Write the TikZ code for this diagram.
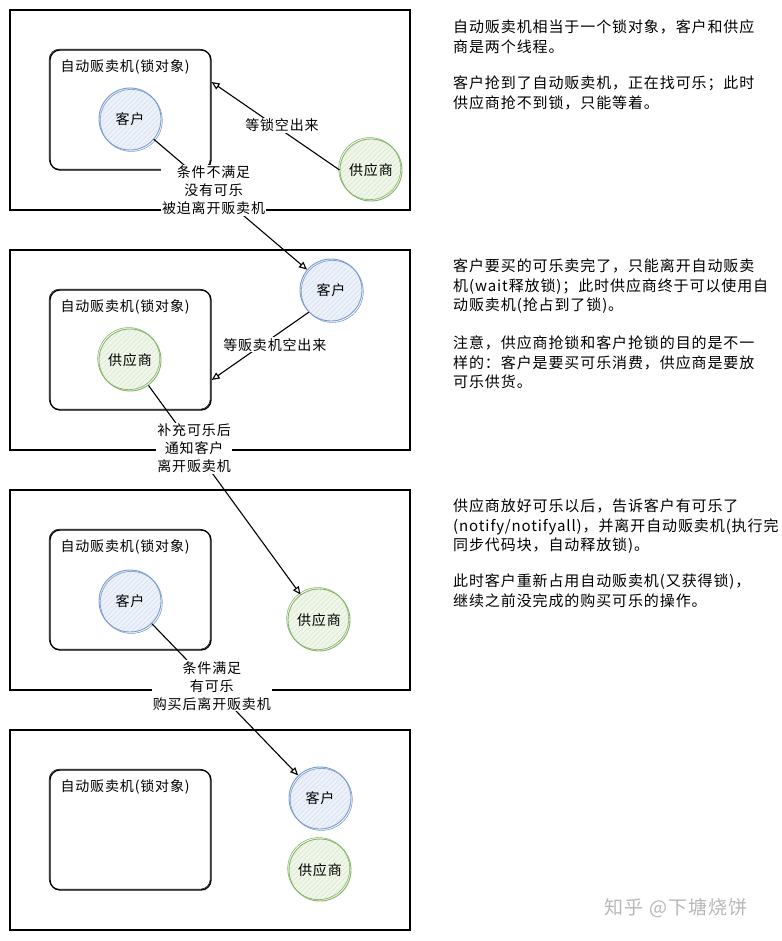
\documentclass[tikz,border=0pt]{standalone}
\usepackage{fontspec}
\usetikzlibrary{arrows.meta,patterns.meta}
\newfontfamily\hand[LetterSpace=6]{Noto Sans CJK SC}
\definecolor{custline}{HTML}{7A9CCF}
\definecolor{custbg}{HTML}{EDF2FA}
\definecolor{suppline}{HTML}{86B56A}
\definecolor{suppbg}{HTML}{F0F7EA}

\begin{document}
\begin{tikzpicture}[
	x=1pt, y=-1pt,
	font=\hand\fontsize{14}{18}\selectfont,
	panel/.style={draw, line width=1.2pt, minimum width=400pt, minimum height=200pt, inner sep=0pt,
		postaction={draw, line width=0.6pt, transform canvas={shift={(0.7pt,0.9pt)}}}},
	vbox/.style={draw, line width=1.3pt, rounded corners=10pt, minimum width=161pt, minimum height=120pt, inner sep=0pt,
		postaction={draw, line width=0.5pt, transform canvas={shift={(-0.8pt,0.8pt)}}}},
	cust/.style={circle, draw=custline, line width=0.9pt, minimum size=62pt, inner sep=0pt,
		preaction={fill=custbg}, pattern={Lines[angle=45,distance=3.5pt,line width=0.35pt]}, pattern color=custline!40,
		postaction={draw=custline, line width=0.6pt, transform canvas={shift={(1.3pt,-1.4pt)}}}},
	supp/.style={circle, draw=suppline, line width=0.9pt, minimum size=62pt, inner sep=0pt,
		preaction={fill=suppbg}, pattern={Lines[angle=45,distance=3.5pt,line width=0.35pt]}, pattern color=suppline!40,
		postaction={draw=suppline, line width=0.6pt, transform canvas={shift={(-1.3pt,1.4pt)}}}},
	title/.style={anchor=west, inner sep=0pt},
	lbl/.style={fill=white, align=center, inner sep=1pt},
	note/.style={anchor=north west, align=left, inner sep=0pt, font=\hand\fontsize{15}{19.5}\selectfont},
	arr/.style={line width=1.1pt, -{Triangle[open, length=8pt, width=7pt]}},
	]
% panels
\node [panel] (p1) at (210,110) {};
\node [panel] (p2) at (210,350) {};
\node [panel] (p3) at (210,590) {};
\node [panel] (p4) at (210,830) {};
\foreach \i/\y in {1/110,2/350,3/590,4/830} {
	\node [vbox] (b\i) at (130.5,\y) {};
	\node [title] (t\i) at ([xshift=11pt,yshift=-18pt]b\i.north west) {自动贩卖机(锁对象)};
}
\node [cust] (c1) at (130,119) {客户};
\node [supp] (s1) at (371,170) {供应商};
\node [cust] (c2) at (331,290) {客户};
\node [supp] (s2) at (130,360) {供应商};
\node [cust] (c3) at (130,601) {客户};
\node [supp] (s3) at (319,620) {供应商};
\node [cust] (c4) at (320,798) {客户};
\node [supp] (s4) at (320,870) {供应商};
\coordinate (b1in) at ([yshift=28pt]b1.east);
\coordinate (b2in) at ([yshift=-30pt]b2.east);
% arrows
\draw [arr] (s1.west) -- node [lbl, pos=0.45, yshift=5pt] {等锁空出来} (b1in);
\draw [arr] (c2.south west) -- node [lbl, pos=0.35, yshift=-9pt] {等贩卖机空出来} (b2in);
\draw [arr] (c1) -- node [lbl, pos=0.39] {条件不满足\\没有可乐\\被迫离开贩卖机} (c2);
\draw [arr] (s2) -- node [lbl, pos=0.3] {补充可乐后\\通知客户\\离开贩卖机} (s3);
\draw [arr] (c3) -- node [lbl, pos=0.41] {条件满足\\有可乐\\购买后离开贩卖机} (c4);
% notes
\node [note] (n1) at (453,20) {自动贩卖机相当于一个锁对象，客户和供应\\商是两个线程。};
\node [note] (n2) at (453,76) {客户抢到了自动贩卖机，正在找可乐；此时\\供应商抢不到锁，只能等着。};
\node [note] (n3) at (453,259) {客户要买的可乐卖完了，只能离开自动贩卖\\机(wait释放锁)；此时供应商终于可以使用自\\动贩卖机(抢占到了锁)。};
\node [note] (n4) at (453,336) {注意，供应商抢锁和客户抢锁的目的是不一\\样的：客户是要买可乐消费，供应商是要放\\可乐供货。};
\node [note] (n5) at (453,499) {供应商放好可乐以后，告诉客户有可乐了\\(notify/notifyall)，并离开自动贩卖机(执行完\\同步代码块，自动释放锁)。};
\node [note] (n6) at (453,574) {此时客户重新占用自动贩卖机(又获得锁)，\\继续之前没完成的购买可乐的操作。};
\node [text=black!28, font=\hand\fontsize{19}{19}\selectfont] (wm) at (676,908) {知乎 @下塘烧饼};
\useasboundingbox (0,0) rectangle (781,941);
\end{tikzpicture}
\end{document}
